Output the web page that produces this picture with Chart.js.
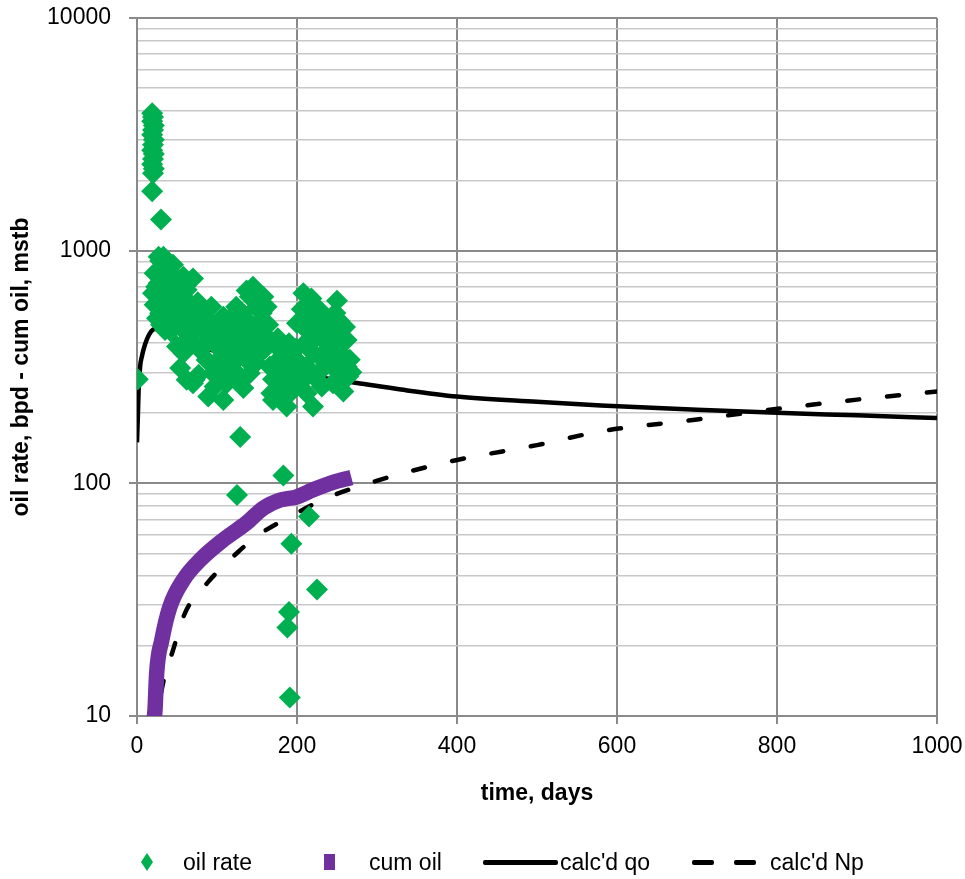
<!DOCTYPE html>
<html>
<head>
<meta charset="utf-8">
<title>oil rate / cum oil</title>
<script src="https://cdn.jsdelivr.net/npm/chart.js@4.4.1/dist/chart.umd.min.js"></script>
<style>
  html, body { margin: 0; padding: 0; background: #fff; }
  #wrap { position: relative; width: 965px; height: 879px; }
  #chart { position: absolute; left: 0; top: 0; }
  .lt { position: absolute; top: 850px; font: 23px "Liberation Sans", Arial, sans-serif; line-height: 24px; color: #000; white-space: nowrap; }
  .mk { position: absolute; }
</style>
</head>
<body>
<div id="wrap">
  <canvas id="chart" width="965" height="879"></canvas>
  <div id="legend"></div>
</div>
<script>
// valori: [giorni, valore]
const oilRate = [
  [1,280],
  [19,3900],[20,3750],[19,3600],[21,3450],[20,3300],[19,3150],[21,3000],[20,2850],[19,2700],
  [21,2600],[20,2480],[19,2350],[21,2250],[20,2150],[19,1800],[30,1360],
  [33,942],[27,942],[45,869],[29,906],[27,724],[22,585],[25,512],[35,456],[70,760],[93,574],
  [124,574],[145,700],[162,574],[208,656],[218,623],[250,609],[253,499],[204,487],[220,471],
  [254,393],[264,288],[258,248],[245,269],[220,214],[212,244],[187,214],[170,228],[183,261],
  [170,280],[179,374],[195,350],[200,487],[216,442],[233,413],[235,318],[262,318],[208,279],
  [158,634],[152,487],[162,427],[166,318],[154,363],[133,471],[129,400],[125,297],[133,257],
  [112,269],[108,228],[89,236],[97,261],[72,279],[54,313],[58,363],[50,387],[87,339],[108,339],
  [87,442],[100,487],[108,520],[79,520],[66,487],[58,456],[50,574],[37,612],[29,538],[41,503],
  [45,675],[33,800],[22,800],[20,656],[58,773],[60,623],[70,400],[141,297],[137,339],[145,413],
  [150,574],[141,634],[137,675],[114,318],[70,269],[77,293],[62,279],[179,236],[191,244],
  [183,318],[193,297],[168,244],[197,261],[212,318],[225,279],[231,261],[220,363],[237,374],
  [250,350],[258,297],[245,413],[262,413],[229,471],[237,503],[108,413],[120,456],[100,387],
  [79,374],[95,297],[116,374],[33,675],[41,744],
  [24,700],[28,620],[31,760],[36,870],[38,720],[40,600],[43,560],[47,780],[48,640],[52,700],
  [53,540],[56,600],[62,680],[65,560],[42,450],[30,480],[46,470],
  [64,420],[68,520],[74,460],[76,600],[82,470],[84,400],[90,500],[92,420],[98,330],[102,440],
  [104,290],[110,470],[113,390],[118,520],[121,300],[126,460],[128,350],
  [131,540],[135,440],[139,380],[143,480],[147,620],[149,330],[153,430],[156,540],[160,380],
  [164,480],[167,400],[173,330],[176,420],[181,290],[186,350],[190,400],[194,270],[199,380],
  [203,330],[206,560],[210,400],[214,520],[218,300],[223,420],[227,560],[232,340],[240,450],
  [243,320],[248,540],[252,440],[256,360],[260,470],[266,340],[268,300],
  [129,158],[125,89],[183,108],[215,72],[193,55],[225,35],[190,28],[188,24],[191,12]
];
const cumOil = [
  [21,9.5],[22.5,10.6],[24.6,15.3],[31,21.2],[41,29.4],[58,38.5],[79,46.9],[108,57.2],
  [137,67.6],[158,78.3],[179,84.8],[200,87.5],[220,93.8],[245,101],[268,106]
];
const calcQo = [
  [0,150],[1,190],[2,250],[4,320],[6,350],[10,395],[15,435],[20,458],[25,462],[30,455],
  [44,426],[60,405],[80,385],[100,368],[125,345],[150,329],[175,313],[200,300],[237,282],
  [275,270],[330,253],[400,236],[500,224],[580,216],[700,207],[800,201],[900,196],[1000,191]
];
const calcNp = [
  [22,8.5],[30,12.5],[35,15],[44,18.7],[60,27.7],[89,37.7],[125,50.2],[152,60],[191,71.8],
  [237,86.5],[283,98.4],[325,108.7],[400,126],[500,146],[583,168],[700,188],[781,205],
  [900,229],[1000,248]
];
const yTicks = [10,20,30,40,50,60,70,80,90,100,200,300,400,500,600,700,800,900,
  1000,2000,3000,4000,5000,6000,7000,8000,9000,10000];
const seriesNames = ["oil rate", "cum oil", "calc'd qo", "calc'd Np"];

const FONT = '"Liberation Sans", Arial, sans-serif';
const green = '#00B050';
const purple = '#7030A0';
const gridDark = '#8a8a8a';
const gridLight = '#c8c8c8';

function toXY(arr) {
  return arr.map(p => ({ x: p[0], y: p[1] }));
}

function isDecade(v) {
  const l = Math.log10(v);
  return Math.abs(l - Math.round(l)) < 1e-9;
}

new Chart(document.getElementById('chart'), {
  type: 'scatter',
  data: {
    datasets: [
      {
        label: seriesNames[0],
        data: toXY(oilRate),
        pointStyle: 'rectRot',
        pointRadius: 11,
        pointBackgroundColor: green,
        pointBorderColor: green,
        pointBorderWidth: 0
      },
      {
        label: seriesNames[1],
        data: toXY(cumOil),
        showLine: true,
        borderColor: purple,
        borderWidth: 15.5,
        borderCapStyle: 'butt',
        cubicInterpolationMode: 'monotone',
        pointRadius: 0
      },
      {
        label: seriesNames[2],
        data: toXY(calcQo),
        showLine: true,
        borderColor: '#000',
        borderWidth: 4.5,
        cubicInterpolationMode: 'monotone',
        pointRadius: 0
      },
      {
        label: seriesNames[3],
        data: toXY(calcNp),
        showLine: true,
        borderColor: '#000',
        borderWidth: 4.5,
        borderDash: [12, 28],
        borderCapStyle: 'round',
        cubicInterpolationMode: 'monotone',
        pointRadius: 0
      }
    ]
  },
  options: {
    responsive: false,
    animation: false,
    events: [],
    layout: { padding: { top: 18, right: 28, bottom: 63, left: 0 } },
    plugins: {
      legend: { display: false },
      tooltip: { enabled: false }
    },
    scales: {
      x: {
        type: 'linear',
        min: 0,
        max: 1000,
        ticks: {
          stepSize: 200,
          color: '#000',
          font: { family: FONT, size: 23 },
          padding: 9,
          maxRotation: 0,
          callback: v => String(v)
        },
        grid: { color: gridDark, lineWidth: 2, tickLength: 8, tickColor: gridDark },
        border: { color: gridDark, width: 2 },
        title: { display: true, text: 'time, days', color: '#000', font: { family: FONT, size: 23, weight: 'bold' }, padding: { top: 0, bottom: 9 } },
        afterFit: s => { s.height = 100; s.paddingLeft = 0; s.paddingRight = 0; }
      },
      y: {
        type: 'logarithmic',
        min: 10,
        max: 10000,
        afterBuildTicks: s => { s.ticks = yTicks.map(v => ({ value: v, major: isDecade(v) })); },
        ticks: {
          autoSkip: false,
          color: '#000',
          font: { family: FONT, size: 23 },
          padding: 18,
          callback: v => isDecade(v) ? String(v) : ''
        },
        grid: {
          color: c => (c.tick && isDecade(c.tick.value)) ? gridDark : gridLight,
          lineWidth: c => (c.tick && isDecade(c.tick.value)) ? 2 : 1.6,
          tickLength: 8,
          tickColor: c => (c.tick && isDecade(c.tick.value)) ? gridDark : 'rgba(0,0,0,0)'
        },
        border: { color: gridDark, width: 2 },
        title: { display: true, text: 'oil rate, bpd - cum oil, mstb', color: '#000', font: { family: FONT, size: 23, weight: 'bold' }, padding: { top: 8, bottom: 0 } },
        afterFit: s => { s.width = 137; s.paddingTop = 0; s.paddingBottom = 0; }
      }
    }
  }
});

// legenda in html sotto al grafico
const legend = document.getElementById('legend');
const legendItems = [
  { mark: 'diamond', markLeft: 141, textLeft: 183 },
  { mark: 'square', markLeft: 324, textLeft: 369 },
  { mark: 'solid', markLeft: 483, textLeft: 560 },
  { mark: 'dash', markLeft: 692, textLeft: 770 }
];
legendItems.forEach((it, i) => {
  if (it.mark === 'diamond') {
    legend.innerHTML += `<div class="mk" style="left:${it.markLeft}px;top:853px;width:12px;height:18px;background:${green};clip-path:polygon(50% 0,100% 50%,50% 100%,0 50%)"></div>`;
  } else if (it.mark === 'square') {
    legend.innerHTML += `<div class="mk" style="left:${it.markLeft}px;top:854px;width:11px;height:16px;background:${purple}"></div>`;
  } else if (it.mark === 'solid') {
    legend.innerHTML += `<div class="mk" style="left:${it.markLeft}px;top:860px;width:75px;height:5px;border-radius:2px;background:#000"></div>`;
  } else {
    legend.innerHTML += `<div class="mk" style="left:${it.markLeft}px;top:860px;width:22px;height:5px;border-radius:2px;background:#000"></div>`;
    legend.innerHTML += `<div class="mk" style="left:${it.markLeft + 42}px;top:860px;width:22px;height:5px;border-radius:2px;background:#000"></div>`;
  }
  legend.innerHTML += `<span class="lt" style="left:${it.textLeft}px">${seriesNames[i]}</span>`;
});
</script>
</body>
</html>
